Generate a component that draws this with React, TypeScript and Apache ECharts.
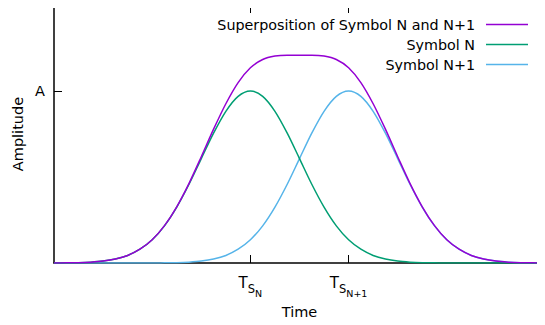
import React, { useEffect, useRef } from "react";
import * as echarts from "echarts";

// time axis, in units of the symbol width (T_SN = -1, T_SN+1 = +1)
const times = [
  -5, -4.75, -4.5, -4.25, -4, -3.75, -3.5, -3.25, -3, -2.75, -2.5, -2.25, -2, -1.75, -1.5, -1.25,
  -1, -0.75, -0.5, -0.25, 0, 0.25, 0.5, 0.75, 1, 1.25, 1.5, 1.75, 2, 2.25, 2.5, 2.75, 3, 3.25,
  3.5, 3.75, 4, 4.25, 4.5, 4.75, 5,
];

const symbolN = [
  0.0, 0.001, 0.002, 0.005, 0.011, 0.023, 0.044, 0.08, 0.135, 0.216, 0.325, 0.458, 0.607, 0.755,
  0.882, 0.969, 1.0, 0.969, 0.882, 0.755, 0.607, 0.458, 0.325, 0.216, 0.135, 0.08, 0.044, 0.023,
  0.011, 0.005, 0.002, 0.001, 0.0, 0.0, 0.0, 0.0, 0.0, 0.0, 0.0, 0.0, 0.0,
];

const symbolN1 = [
  0.0, 0.0, 0.0, 0.0, 0.0, 0.0, 0.0, 0.0, 0.0, 0.001, 0.002, 0.005, 0.011, 0.023, 0.044, 0.08,
  0.135, 0.216, 0.325, 0.458, 0.607, 0.755, 0.882, 0.969, 1.0, 0.969, 0.882, 0.755, 0.607, 0.458,
  0.325, 0.216, 0.135, 0.08, 0.044, 0.023, 0.011, 0.005, 0.002, 0.001, 0.0,
];

const superposition = [
  0.0, 0.001, 0.002, 0.005, 0.011, 0.023, 0.044, 0.08, 0.135, 0.217, 0.327, 0.463, 0.618, 0.778,
  0.926, 1.049, 1.135, 1.183, 1.203, 1.208, 1.208, 1.208, 1.203, 1.183, 1.135, 1.049, 0.926, 0.778,
  0.618, 0.463, 0.327, 0.217, 0.135, 0.08, 0.044, 0.023, 0.011, 0.005, 0.002, 0.001, 0.0,
];

const seriesNames = ["Superposition of Symbol N and N+1", "Symbol N", "Symbol N+1"];
const seriesColors = ["#9400d3", "#009e73", "#56b4e9"];
const xTickValues = [-1, 1];
const xTickLabels = ["{t|T}{s|S}{n|N}", "{t|T}{s|S}{n|N+1}"];
const yTickValues = [1];
const yTickLabels = ["A"];

const FONT = "DejaVu Sans";

export default function App() {
  const ref = useRef<HTMLDivElement>(null);

  useEffect(() => {
    if (!ref.current) return;
    const chart = echarts.init(ref.current, undefined, { renderer: "svg" });
    const values = [superposition, symbolN, symbolN1];

    const legendRows = [24.5, 44.5, 64.5];
    const graphic: any[] = [];
    seriesNames.forEach((name, i) => {
      graphic.push({
        type: "text",
        x: 475,
        y: legendRows[i],
        style: {
          text: name,
          fill: "#000",
          font: `14.3px "${FONT}"`,
          textAlign: "right",
          textVerticalAlign: "middle",
        },
      });
      graphic.push({
        type: "line",
        shape: { x1: 486, y1: legendRows[i], x2: 528, y2: legendRows[i] },
        style: { stroke: seriesColors[i], lineWidth: 1.5 },
      });
    });

    const axisBase = {
      type: "value" as const,
      min: -5,
      max: 5,
      splitLine: { show: false },
      axisLine: { show: true, onZero: false, lineStyle: { color: "#000", width: 1.5 } },
    };

    chart.setOption({
      animation: false,
      backgroundColor: "#fff",
      textStyle: { fontFamily: FONT },
      grid: { left: 54, right: 0, top: 5, bottom: 62, containLabel: false },
      xAxis: [
        {
          ...axisBase,
          position: "bottom",
          name: "Time",
          nameLocation: "middle",
          nameGap: 41,
          nameMoveOverlap: false,
          nameTextStyle: { fontSize: 14.5, color: "#000", fontFamily: FONT },
          axisTick: {
            show: true,
            inside: true,
            length: 8,
            customValues: xTickValues,
            lineStyle: { color: "#000", width: 1 },
          },
          axisLabel: {
            show: true,
            customValues: xTickValues,
            margin: 5,
            color: "#000",
            fontFamily: FONT,
            formatter: (v: number) => {
              const idx = xTickValues.indexOf(v);
              return idx >= 0 ? xTickLabels[idx] : "";
            },
            rich: {
              t: { fontSize: 15, fontFamily: FONT, color: "#000" },
              s: { fontSize: 11.5, fontFamily: FONT, color: "#000", padding: [11, 0, 0, 0] },
              n: { fontSize: 9.5, fontFamily: FONT, color: "#000", padding: [20, 0, 0, 0] },
            },
          },
        },
        {
          ...axisBase,
          position: "top",
          axisTick: {
            show: true,
            inside: true,
            length: 8,
            customValues: xTickValues,
            lineStyle: { color: "#000", width: 1 },
          },
          axisLabel: { show: false },
        },
      ],
      yAxis: {
        type: "value",
        min: 0,
        max: 1.5,
        position: "left",
        splitLine: { show: false },
        axisLine: { show: true, onZero: false, lineStyle: { color: "#000", width: 1.5 } },
        axisTick: {
          show: true,
          inside: true,
          length: 8,
          customValues: yTickValues,
          lineStyle: { color: "#000", width: 1 },
        },
        axisLabel: {
          show: true,
          customValues: yTickValues,
          margin: 9,
          color: "#000",
          fontSize: 14.5,
          fontFamily: FONT,
          formatter: (v: number) => {
            const idx = yTickValues.indexOf(v);
            return idx >= 0 ? yTickLabels[idx] : "";
          },
        },
        name: "Amplitude",
        nameLocation: "middle",
        nameGap: 29,
        nameRotate: 90,
        nameMoveOverlap: false,
        nameTextStyle: { fontSize: 14.5, color: "#000", fontFamily: FONT },
      },
      series: seriesNames.map((name, i) => ({
        name,
        type: "line",
        xAxisIndex: 0,
        data: times.map((t, k) => [t, values[i][k]]),
        smooth: 0.3,
        showSymbol: false,
        symbol: "none",
        lineStyle: { color: seriesColors[i], width: 1.5 },
        itemStyle: { color: seriesColors[i] },
        z: 3 - i,
      })),
      graphic,
    });

    return () => chart.dispose();
  }, []);

  return <div ref={ref} style={{ width: 545, height: 325, margin: -8 }} />;
}
